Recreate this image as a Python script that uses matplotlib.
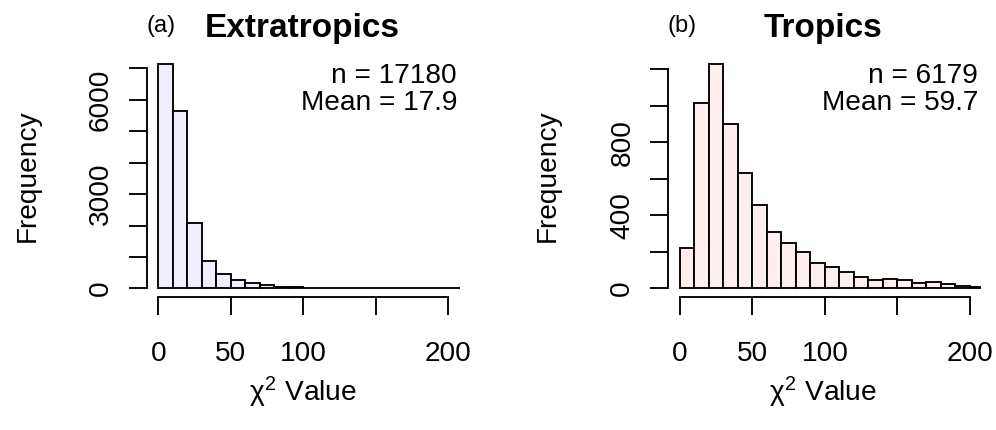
import matplotlib
matplotlib.use("Agg")
import matplotlib.pyplot as plt
import numpy as np

plt.rcParams['font.family'] = ['Liberation Sans', 'DejaVu Sans']
plt.rcParams['mathtext.fontset'] = 'custom'
plt.rcParams['mathtext.rm'] = 'Liberation Sans'
plt.rcParams['mathtext.it'] = 'Liberation Sans'
plt.rcParams['mathtext.bf'] = 'Liberation Sans:bold'

# ---- data ----
bin_width = 10
extra_counts = [7143, 5660, 2083, 867, 454, 264, 159, 95, 51, 35, 25, 18, 13,
                10, 8, 6, 5, 4, 3, 3, 2]
trop_counts = [219, 1014, 1229, 898, 634, 459, 306, 251, 198, 140, 118, 89, 63,
               45, 49, 44, 29, 36, 22, 14, 7]
extra_n, extra_mean = 17180, 17.9
trop_n, trop_mean = 6179, 59.7
x_ticks = [0, 50, 100, 150, 200]
x_ticklabels = ['0', '50', '100', '', '200']
extra_yticks = [0, 1000, 2000, 3000, 4000, 5000, 6000, 7000]
extra_yticklabels = ['0', '', '', '3000', '', '', '6000', '']
trop_yticks = [0, 200, 400, 600, 800, 1000, 1200]
trop_yticklabels = ['0', '', '400', '', '800', '', '']

W, H = 996, 430
fig = plt.figure(figsize=(W / 100, H / 100), dpi=100)

TXT = 20.2
LW = 1.35


def px(x, y):
    return x / W, 1 - y / H


def panel(left_px, counts, color, yticks, yticklabels, tag, title, n, mean,
          tag_x, title_x, freq_x, right_px):
    ax = fig.add_axes([left_px / W, (H - 297.3) / H, 313.0 / W, 242.3 / H])
    edges = np.arange(len(counts)) * bin_width
    ax.bar(edges, counts, width=bin_width, align='edge', color=color,
           edgecolor='black', linewidth=LW)
    top = max(counts)
    ax.set_xlim(-8, 208)
    ax.set_ylim(-0.04 * top, 1.04 * top)
    for s in ['top', 'right']:
        ax.spines[s].set_visible(False)
    for s in ['left', 'bottom']:
        ax.spines[s].set_linewidth(LW)
    ax.spines['bottom'].set_bounds(x_ticks[0], x_ticks[-1])
    ax.spines['left'].set_bounds(yticks[0], yticks[-1])
    ax.set_xticks(x_ticks)
    ax.set_xticklabels(x_ticklabels)
    ax.set_yticks(yticks)
    ax.set_yticklabels(yticklabels)
    ax.tick_params(axis='both', length=12.8, width=LW, labelsize=TXT)
    ax.tick_params(axis='x', pad=18.5)
    ax.tick_params(axis='y', pad=11)
    for lab in ax.get_yticklabels():
        lab.set_rotation(90)
        lab.set_va('center')
    # annotations
    fig.text(*px(right_px, 83.3), f'n = {n}', ha='right', va='baseline',
             fontsize=TXT)
    fig.text(*px(right_px, 110.0), f'Mean = {mean}', ha='right',
             va='baseline', fontsize=TXT)
    fig.text(*px(title_x, 36.7), title, ha='center', va='baseline',
             fontsize=24, fontweight='bold')
    fig.text(*px(tag_x, 31.7), tag, ha='center', va='baseline', fontsize=17)
    fig.text(*px(freq_x, 176), 'Frequency', rotation=90, ha='center',
             va='center', fontsize=TXT)
    fig.text(*px(title_x, 401.7), r'$\chi^2$ Value', ha='center',
             va='baseline', fontsize=TXT)
    return ax


panel(146.7, extra_counts, '#EEEEFC', extra_yticks, extra_yticklabels,
      '(a)', 'Extratropics', extra_n, extra_mean, 161, 302.5, 28, 457)
panel(668.4, trop_counts, '#FFEEEE', trop_yticks, trop_yticklabels,
      '(b)', 'Tropics', trop_n, trop_mean, 682.5, 823, 548, 978)

fig.savefig('out.png', dpi=100)
